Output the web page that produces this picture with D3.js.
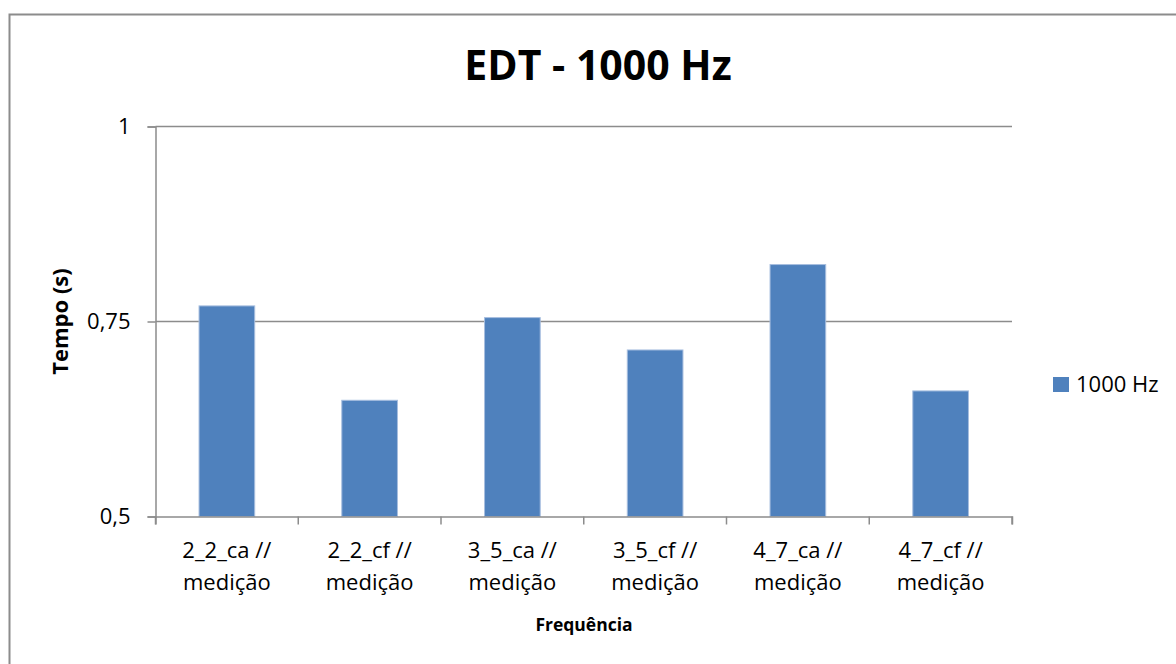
<!DOCTYPE html>
<html>
<head>
<meta charset="utf-8">
<script src="https://cdn.jsdelivr.net/npm/d3@7"></script>
<style>
  html, body { margin: 0; padding: 0; background: #fff; }
  svg text { font-family: "Open Sans", "Noto Sans", "DejaVu Sans", sans-serif; fill: #000; }
</style>
</head>
<body>
<svg id="chart" width="1176" height="664"></svg>
<script>
// EDT at 1000 Hz per measurement configuration
const categories = ["2_2_ca // medição", "2_2_cf // medição", "3_5_ca // medição",
                    "3_5_cf // medição", "4_7_ca // medição", "4_7_cf // medição"];
const values = [0.770, 0.649, 0.755, 0.7135, 0.823, 0.661];
const seriesName = "1000 Hz";
const yTicks = [0.5, 0.75, 1];
const yTickLabels = ["0,5", "0,75", "1"];

const svg = d3.select("#chart");
const W = 1176, H = 664;
const plot = { left: 155.5, right: 1012, top: 126.5, bottom: 516.5 };
const labelSize = 22;

// outer chart frame (extends past the right and bottom edges)
svg.append("rect")
  .attr("x", 9.5).attr("y", 14.5)
  .attr("width", W + 10).attr("height", H + 10)
  .attr("fill", "#fff").attr("stroke", "#8c8c8c").attr("stroke-width", 2);

const x = d3.scaleBand().domain(categories).range([plot.left, plot.right]).padding(0);
const y = d3.scaleLinear().domain([0.5, 1]).range([plot.bottom, plot.top]);

// horizontal gridlines
svg.append("g").selectAll("line").data(yTicks.slice(1)).join("line")
  .attr("x1", plot.left).attr("x2", plot.right)
  .attr("y1", d => y(d)).attr("y2", d => y(d))
  .attr("stroke", "#8c8c8c").attr("stroke-width", 1.5);

// y axis
const yAxis = d3.axisLeft(y).tickValues(yTicks)
  .tickFormat((d, i) => yTickLabels[i]).tickSize(8).tickPadding(17);
const gy = svg.append("g").attr("transform", `translate(${plot.left},0)`).call(yAxis);
gy.select(".domain").attr("stroke", "#8c8c8c").attr("stroke-width", 1.5);
gy.selectAll(".tick line").attr("stroke", "#8c8c8c").attr("stroke-width", 1.5);
gy.selectAll(".tick text").attr("font-size", labelSize).attr("dy", "0.33em")
  .style("font-family", '"Open Sans", "Noto Sans", sans-serif');

// bars
const barW = x.bandwidth() * 0.39;
svg.append("g").selectAll("rect").data(values).join("rect")
  .attr("x", (d, i) => x(categories[i]) + (x.bandwidth() - barW) / 2)
  .attr("width", barW)
  .attr("y", d => y(d))
  .attr("height", d => y(0.5) - y(d))
  .attr("fill", "#4f81bd")
  .attr("stroke", "#a7bedf").attr("stroke-width", 1);

// x axis
const xAxis = d3.axisBottom(x).tickSize(8).tickFormat("");
const gx = svg.append("g").attr("transform", `translate(0,${plot.bottom})`).call(xAxis);
gx.select(".domain").attr("stroke", "#8c8c8c").attr("stroke-width", 1.5);
gx.selectAll(".tick line").remove();
// boundary ticks between categories
const bounds = categories.map(c => x(c)).concat([plot.right]);
gx.selectAll("line.bound").data(bounds).join("line").attr("class", "bound")
  .attr("x1", d => d).attr("x2", d => d).attr("y1", 0).attr("y2", 8)
  .attr("stroke", "#8c8c8c").attr("stroke-width", 1.5);

// two-line category labels
const catText = svg.append("g").selectAll("text").data(categories).join("text")
  .attr("text-anchor", "middle").attr("font-size", labelSize);
catText.each(function (d) {
  const parts = d.split(" // ");
  const t = d3.select(this);
  const cx = x(d) + x.bandwidth() / 2;
  t.append("tspan").attr("x", cx).attr("y", 558).text(parts[0] + " //");
  t.append("tspan").attr("x", cx).attr("y", 590).text(parts[1]);
});

// titles
svg.append("text").attr("x", 598).attr("y", 80).attr("text-anchor", "middle")
  .attr("font-size", 41).attr("font-weight", "bold").text("EDT - 1000 Hz");
svg.append("text").attr("x", 584).attr("y", 631).attr("text-anchor", "middle")
  .attr("font-size", 17.5).attr("font-weight", "bold").text("Frequência");
svg.append("text")
  .attr("transform", `translate(68,${(plot.top + plot.bottom) / 2 }) rotate(-90)`)
  .attr("text-anchor", "middle").attr("font-size", 22).attr("font-weight", "bold")
  .text("Tempo (s)");

// legend
svg.append("rect").attr("x", 1053).attr("y", 377).attr("width", 16).attr("height", 15)
  .attr("fill", "#4f81bd");
svg.append("text").attr("x", 1076).attr("y", 392).attr("font-size", labelSize).text(seriesName);
</script>
</body>
</html>
